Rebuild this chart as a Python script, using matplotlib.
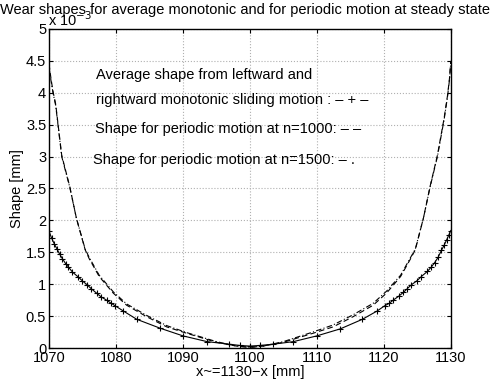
import matplotlib
matplotlib.use("Agg")
import matplotlib.pyplot as plt

plt.rcParams['font.family'] = ['Liberation Sans', 'DejaVu Sans']

# average monotonic shape (solid with + markers)
x_mono = [1070, 1070.4, 1070.8, 1071.2, 1071.6, 1072.0, 1072.5, 1072.9, 1073.5,
          1074.4, 1075.0, 1075.7, 1076.3, 1077.1, 1077.8, 1078.6, 1079.3, 1079.9,
          1081.1, 1083.1, 1086.6, 1090.0, 1093.6, 1096.9, 1098.5, 1100.0,
          1101.5, 1103.5, 1106.5, 1110.0, 1113.5, 1116.8, 1119.0, 1120.1,
          1120.8, 1121.4, 1122.2, 1122.9, 1123.5, 1124.1, 1124.9, 1125.6,
          1126.5, 1127.1, 1127.6, 1128.1, 1128.6, 1129.0, 1129.4, 1129.7, 1130]
y_mono = [1.83, 1.72, 1.63, 1.55, 1.47, 1.40, 1.32, 1.27, 1.19,
          1.11, 1.05, 0.99, 0.93, 0.86, 0.80, 0.75, 0.70, 0.66,
          0.58, 0.45, 0.31, 0.19, 0.10, 0.06, 0.04, 0.03,
          0.04, 0.06, 0.10, 0.19, 0.30, 0.45, 0.58, 0.66,
          0.70, 0.75, 0.81, 0.87, 0.93, 0.99, 1.05, 1.12,
          1.20, 1.27, 1.34, 1.42, 1.53, 1.61, 1.70, 1.77, 1.84]

# periodic motion, n=1000 (dashed)
x_1000 = [1070, 1070.3, 1070.6, 1071.0, 1071.9, 1073.1, 1074.1, 1075.4, 1076.0, 1077.5,
          1079.6, 1081.6, 1084.6, 1087.6, 1090.6, 1095.0, 1098.0, 1100.0, 1102.0, 1105.0,
          1109.4, 1112.4, 1115.4, 1118.4, 1120.4, 1122.5, 1124.0, 1124.7,
          1125.9, 1126.9, 1128.0, 1129.0, 1129.5, 1129.8, 1130]
y_1000 = [4.45, 4.22, 4.02, 3.82, 3.02, 2.53, 2.03, 1.54, 1.40, 1.12,
          0.86, 0.67, 0.49, 0.33, 0.23, 0.09, 0.03, 0.01, 0.03, 0.09,
          0.23, 0.33, 0.49, 0.67, 0.86, 1.12, 1.40, 1.54,
          2.03, 2.53, 3.02, 3.60, 3.95, 4.22, 4.50]

# periodic motion, n=1500 (dash-dot)
x_1500 = [1070, 1070.3, 1070.6, 1071.0, 1071.9, 1073.1, 1074.1, 1075.4, 1076.0, 1077.5,
          1079.6, 1081.6, 1084.6, 1087.6, 1090.6, 1095.0, 1098.0, 1100.0, 1102.0, 1105.0,
          1109.4, 1112.4, 1115.4, 1118.4, 1120.4, 1122.5, 1124.0, 1124.7,
          1125.9, 1126.9, 1128.0, 1129.0, 1129.5, 1129.8, 1130]
y_1500 = [4.40, 4.19, 4.00, 3.80, 3.00, 2.52, 2.03, 1.55, 1.42, 1.14,
          0.88, 0.69, 0.51, 0.35, 0.24, 0.10, 0.03, 0.01, 0.03, 0.10,
          0.25, 0.36, 0.52, 0.70, 0.89, 1.14, 1.42, 1.55,
          2.03, 2.52, 3.00, 3.58, 3.93, 4.20, 4.48]

fs = 10.5

fig = plt.figure(figsize=(4.9, 3.81), dpi=100)
ax = fig.add_axes([0.1, 0.0866, 0.82, 0.8374])

ax.plot(x_mono, y_mono, color='black', lw=0.8, marker='+', ms=5, mew=0.8)
ax.plot(x_1000, y_1000, color='black', lw=0.8, ls=(0, (5, 3)))
ax.plot(x_1500, y_1500, color='black', lw=0.8, ls=(0, (5, 2, 1, 2)))

ax.set_xlim(1070, 1130)
ax.set_ylim(0, 5)
ax.set_xticks(range(1070, 1131, 10))
ax.set_yticks([0, 0.5, 1, 1.5, 2, 2.5, 3, 3.5, 4, 4.5, 5])
ax.set_yticklabels(['0', '0.5', '1', '1.5', '2', '2.5', '3', '3.5', '4', '4.5', '5'])
ax.tick_params(direction='in', top=True, right=True, labelsize=fs, length=3, pad=2)
ax.grid(True, color='#b0b0b0', ls=':', lw=0.8)
for s in ax.spines.values():
    s.set_linewidth(1.0)

ax.set_xlabel('x~=1130\u2212x [mm]', fontsize=fs, labelpad=0)
ax.set_ylabel('Shape [mm]', fontsize=fs, labelpad=1)
fig.text(0.5, 0.974, 'Wear shapes for average monotonic and for periodic motion at steady state',
         ha='center', va='center', fontsize=fs)
fig.text(0.098, 0.948, 'x 10$^{-3}$', ha='left', va='center', fontsize=fs)

ax.text(1077.0, 4.28, 'Average shape from leftward and', fontsize=fs, va='center')
ax.text(1077.0, 3.88, 'rightward monotonic sliding motion : \u2013 + \u2013', fontsize=fs, va='center')
ax.text(1076.8, 3.43, 'Shape for periodic motion at n=1000: \u2013 \u2013', fontsize=fs, va='center')
ax.text(1076.6, 2.95, 'Shape for periodic motion at n=1500: \u2013 .', fontsize=fs, va='center')

fig.savefig('out.png', dpi=100)
